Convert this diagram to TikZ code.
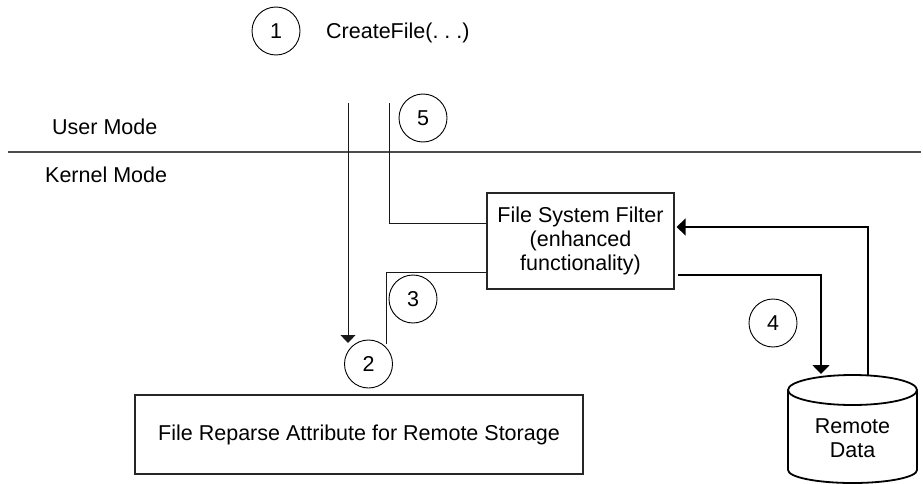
\documentclass[tikz,border=0pt]{standalone}
\usepackage{fontspec}
\setmainfont{Liberation Sans}
\usetikzlibrary{arrows.meta}

\tikzset{
  lbl/.style={inner sep=0pt, font=\fontsize{21.5}{24}\selectfont},
  stepnum/.style={circle, draw, line width=0.9pt, minimum size=48pt, inner sep=0pt,
                  font=\fontsize{21.5}{24}\selectfont},
  procbox/.style={draw=black!85, line width=1.2pt, inner sep=0pt, align=center,
                  font=\fontsize{21.5}{24}\selectfont},
  thinflow/.style={line width=0.9pt, draw=black!90},
  thickflow/.style={line width=1.8pt},
  thintip/.style={-{Triangle[width=15pt,length=8pt]}},
  thicktip/.style={-{Triangle[width=17pt,length=9pt]}},
}

\begin{document}
\begin{tikzpicture}[x=1pt, y=-1pt]
  \useasboundingbox (0,0) rectangle (923,484);

  % user / kernel boundary
  \coordinate (modeL) at (8,152);
  \coordinate (modeR) at (921,152);
  \draw[line width=1.3pt, draw=black!70] (modeL) -- (modeR);
  \node[lbl, anchor=west] (user) at (52,127) {User Mode};
  \node[lbl, anchor=west] (kernel) at (45,175) {Kernel Mode};

  % call from user mode
  \node[stepnum] (s1) at (276,31) {1};
  \node[lbl, anchor=west] (call) at (326,33) {CreateFile(.\ .\ .)};

  % components
  \node[procbox, minimum width=187pt, minimum height=96pt] (fsf) at (580.5,241)
       {File System Filter\\(enhanced\\functionality)};
  \node[procbox, minimum width=448pt, minimum height=79pt] (rpa) at (359,434.5)
       {File Reparse Attribute for Remote Storage};

  % remote data store
  \draw[thickflow] (788,390) -- (788,470)
      arc[start angle=180, end angle=360, x radius=64.5pt, y radius=13pt]
      -- (917,390)
      arc[start angle=0, end angle=180, x radius=64.5pt, y radius=15pt] -- cycle;
  \draw[thickflow] (788,390)
      arc[start angle=180, end angle=360, x radius=64.5pt, y radius=15pt];
  \node[lbl, align=center] (rd) at (852.5,438) {Remote\\Data};

  % step markers
  \node[stepnum] (s5) at (423,118) {5};
  \node[stepnum] (s3) at (413,299) {3};
  \node[stepnum] (s2) at (368.5,364) {2};
  \node[stepnum] (s4) at (773,323) {4};

  % connector end points
  \coordinate (downTop) at (348,103);
  \coordinate (downEnd) at (348,343);
  \coordinate (upTop) at (389,103);
  \coordinate (retEnd) at (386,344);
  \coordinate (rdIn) at (821,374);
  \coordinate (rdOut) at (868,376);

  % request path
  \draw[thinflow, thintip] (downTop) -- (downEnd);
  \draw[thinflow] (upTop) |- ([yshift=18pt]fsf.west);
  \draw[thinflow] ([yshift=-31pt]fsf.west) -| (retEnd);

  % remote data round trip
  \draw[thickflow, thicktip] ([yshift=-34pt,xshift=3pt]fsf.east) -| (rdIn);
  \draw[thickflow, thicktip] (rdOut) |- ([yshift=14pt,xshift=2pt]fsf.east);
\end{tikzpicture}
\end{document}
